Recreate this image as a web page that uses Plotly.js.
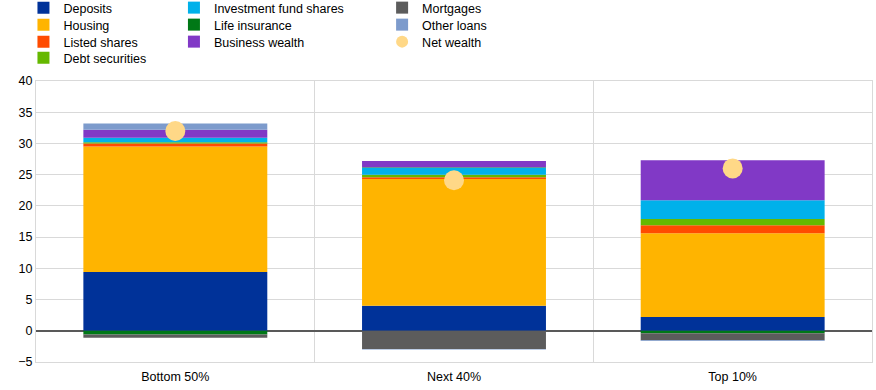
<!DOCTYPE html>
<html><head><meta charset="utf-8">
<script src="https://cdn.plot.ly/plotly-3.0.1.min.js"></script>
<style>body{margin:0;padding:0;}#chart{width:876px;height:390px;}</style>
</head><body><div id="chart"></div>
<script>
const categories = ["Bottom 50%", "Next 40%", "Top 10%"];
const deposits = [9.4, 4.0, 2.2];
const housing = [20.1, 20.3, 13.4];
const listedShares = [0.5, 0.3, 1.3];
const debtSecurities = [0.2, 0.4, 1.0];
const investmentFunds = [0.7, 1.1, 3.0];
const lifeInsurance = [-0.6, 0.1, -0.4];
const businessWealth = [1.3, 1.0, 6.4];
const mortgages = [-0.5, -2.9, -1.1];
const otherLoans = [1.0, -0.1, -0.15];
const netWealth = [32.0, 24.1, 26.0];

// legend placement: column (0..2), row (0..3)
const series = [
  {name: "Deposits", y: deposits, color: "#003299", col: 0, row: 0},
  {name: "Housing", y: housing, color: "#FFB400", col: 0, row: 1},
  {name: "Listed shares", y: listedShares, color: "#FF4B00", col: 0, row: 2},
  {name: "Debt securities", y: debtSecurities, color: "#65B800", col: 0, row: 3},
  {name: "Investment fund shares", y: investmentFunds, color: "#00B1EA", col: 1, row: 0},
  {name: "Life insurance", y: lifeInsurance, color: "#007816", col: 1, row: 1},
  {name: "Business wealth", y: businessWealth, color: "#8139C6", col: 1, row: 2},
  {name: "Mortgages", y: mortgages, color: "#5C5C5C", col: 2, row: 0},
  {name: "Other loans", y: otherLoans, color: "#7D9BCC", col: 2, row: 1}
];

const font = {family: "Liberation Sans, Arial, sans-serif", size: 12.5, color: "#000"};
const colX = [-0.015, 0.165, 0.414];
const rowY = [8, 25, 42, 58];

const layout = {
  width: 876, height: 390,
  margin: {l: 36, r: 4, t: 81, b: 28, autoexpand: false},
  paper_bgcolor: "#fff", plot_bgcolor: "#fff",
  font: font,
  barmode: "relative",
  bargap: 0.34,
  showlegend: true,
  xaxis: {
    type: "category", tickson: "boundaries", showgrid: true, gridcolor: "#D9D9D9",
    showline: true, linecolor: "#D9D9D9", mirror: true, ticks: "", tickfont: font,
    zeroline: false, ticklabelstandoff: 3
  },
  yaxis: {
    range: [-5, 40], dtick: 5, tick0: 0, showgrid: true, gridcolor: "#D9D9D9",
    showline: true, linecolor: "#D9D9D9", mirror: true, ticks: "",
    zeroline: true, zerolinecolor: "#595959", zerolinewidth: 2, tickfont: font
  }
};

function legendKey(i) { return i === 0 ? "legend" : "legend" + (i + 1); }
function addLegend(i, col, row, extra) {
  layout[legendKey(i)] = Object.assign({
    orientation: "v", bgcolor: "rgba(0,0,0,0)", font: font,
    xanchor: "left", yanchor: "middle", yref: "container", xref: "paper",
    x: colX[col], y: 1 - rowY[row] / 390, itemwidth: 30, borderwidth: 0
  }, extra || {});
}

const traces = series.map((s, i) => {
  addLegend(i, s.col, s.row);
  return {
    type: "bar", x: categories, y: s.y, name: s.name, legend: legendKey(i),
    marker: {color: s.color, line: {width: 0}}
  };
});
const nwIdx = traces.length;
addLegend(nwIdx, 2, 2, {itemsizing: "constant"});
traces.push({
  type: "scatter", mode: "markers", x: categories, y: netWealth, name: "Net wealth",
  legend: legendKey(nwIdx), marker: {color: "#FFD887", size: 20, line: {width: 0}}
});

Plotly.newPlot("chart", traces, layout, {displayModeBar: false, staticPlot: true});
</script>
</body></html>
